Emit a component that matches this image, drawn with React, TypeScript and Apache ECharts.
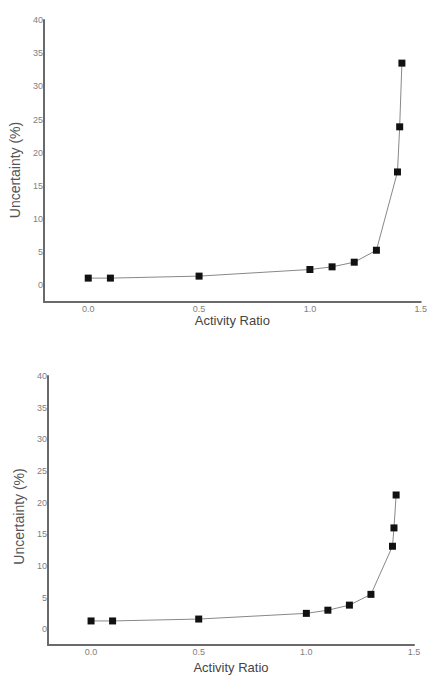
import React, { useEffect, useRef } from "react";
import * as echarts from "echarts";

const topRatio = [0, 0.1, 0.5, 1.0, 1.1, 1.2, 1.3, 1.395, 1.405, 1.415];
const topUncertainty = [1.1, 1.1, 1.4, 2.4, 2.8, 3.5, 5.3, 17.1, 23.9, 33.5];
const bottomRatio = [0, 0.1, 0.5, 1.0, 1.1, 1.2, 1.3, 1.4, 1.407, 1.417];
const bottomUncertainty = [1.3, 1.3, 1.6, 2.5, 3.0, 3.8, 5.5, 13.1, 16.0, 21.2];
const xTicks = [0, 0.5, 1.0, 1.5];
const yTicks = [0, 5, 10, 15, 20, 25, 30, 35, 40];
const xTitle = "Activity Ratio";
const yTitle = "Uncertainty (%)";

const FONT = "Liberation Sans, Arial, sans-serif";

export default function App() {
  const ref = useRef<HTMLDivElement>(null);
  useEffect(() => {
    if (!ref.current) return;
    const chart = echarts.init(ref.current, null, { renderer: "svg" });
    const axisLine = { show: true, onZero: false, lineStyle: { color: "#6a6a6a", width: 2 } };
    const mkX = (gi: number, gap: number) => ({
      type: "value",
      gridIndex: gi,
      min: -0.2,
      max: 1.5,
      axisLine,
      axisTick: { show: false },
      splitLine: { show: false },
      axisLabel: {
        customValues: xTicks,
        formatter: (v: number) => v.toFixed(1),
        color: "#808080",
        fontSize: 9,
        fontFamily: FONT,
        margin: 2,
      },
      name: xTitle,
      nameLocation: "middle",
      nameGap: gap,
      nameTextStyle: { color: "#444", fontSize: 13, fontFamily: FONT },
    });
    const mkY = (gi: number, gap: number, pad: number) => ({
      type: "value",
      gridIndex: gi,
      min: -2.5,
      max: 40,
      axisLine,
      axisTick: { show: false },
      splitLine: { show: false },
      axisLabel: {
        customValues: yTicks,
        color: "#808080",
        fontSize: 9,
        fontFamily: FONT,
        margin: 1,
      },
      name: yTitle,
      nameLocation: "middle",
      nameGap: gap,
      nameTextStyle: {
        color: "#555",
        fontSize: 14,
        fontFamily: FONT,
        padding: [0, pad, 0, 0],
      },
    });
    const mkSeries = (gi: number, xs: number[], ys: number[]) => ({
      type: "line",
      xAxisIndex: gi,
      yAxisIndex: gi,
      data: xs.map((x, i) => [x, ys[i]]),
      symbol: "rect",
      symbolSize: 7,
      itemStyle: { color: "#111" },
      lineStyle: { color: "#888", width: 1 },
    });
    chart.setOption({
      animation: false,
      backgroundColor: "#fff",
      grid: [
        { left: 43, top: 20, width: 387, height: 282 },
        { left: 48, top: 376, width: 366, height: 269 },
      ],
      xAxis: [mkX(0, 12), mkX(1, 16)],
      yAxis: [mkY(0, 17, 18), mkY(1, 17, 12)],
      series: [
        mkSeries(0, topRatio, topUncertainty),
        mkSeries(1, bottomRatio, bottomUncertainty),
      ],
    });
    return () => chart.dispose();
  }, []);
  return (
    <div
      ref={ref}
      style={{ position: "fixed", left: 0, top: 0, width: 430, height: 675 }}
    />
  );
}
